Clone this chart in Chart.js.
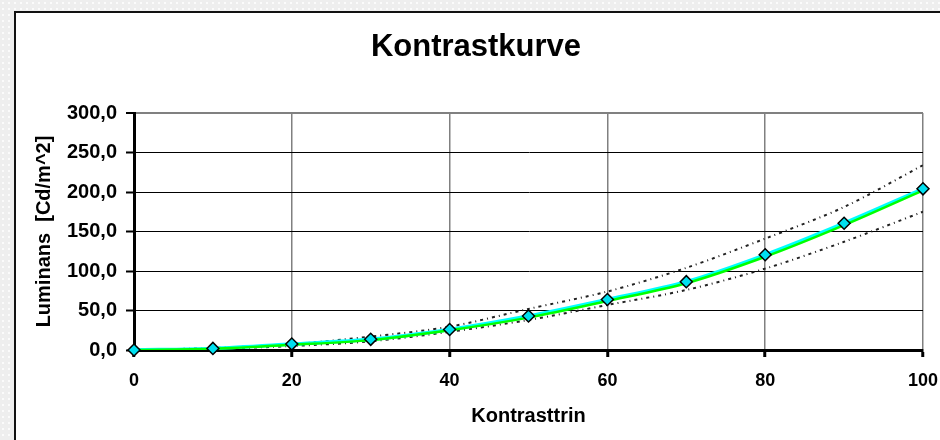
<!DOCTYPE html>
<html>
<head>
<meta charset="utf-8">
<script src="https://cdn.jsdelivr.net/npm/chart.js@4.4.1/dist/chart.umd.min.js"></script>
<style>
  body {
    margin: 0;
    width: 940px;
    height: 440px;
    overflow: hidden;
    background-color: #eeeeee;
    background-image: radial-gradient(#fbfbfb 1px, transparent 1.2px);
    background-size: 6px 6px;
    font-family: "Liberation Sans", Arial, sans-serif;
  }
  .box {
    position: absolute;
    left: 14px;
    top: 11px;
    width: 960px;
    height: 460px;
    background: #fff;
    border: 2px solid #111;
  }
  canvas { position: absolute; left: 0; top: 0; }
</style>
</head>
<body>
<div class="box"></div>
<canvas id="chart" width="940" height="440"></canvas>
<script>
//! Data

const steps = [0, 10, 20, 30, 40, 50, 60, 70, 80, 90, 100];
const luminans = [0, 2, 7.5, 13.5, 26, 43, 64, 86.5, 120.5, 160.5, 204];
const fit = [0, 1.5, 6.5, 12.5, 25, 41, 62, 84.5, 118, 158, 202];
const upper = [0, 2.5, 7.5, 17, 29.5, 52, 74, 104, 141, 181, 234];
const lower = [0, 1.5, 5, 11, 23, 38, 57, 76, 103, 137, 175];
const yTicks = [0, 50, 100, 150, 200, 250, 300];
const xTicks = [0, 20, 40, 60, 80, 100];

const pts = (arr) => steps.map((x, i) => ({ x: x, y: arr[i] }));
const fmt = (v) => v.toFixed(1).replace(".", ",");
const fontName = "'Liberation Sans', Arial, sans-serif";

//! Title plugin

const titlePlugin = {
  id: "bigTitle",
  afterDraw(chart) {
    const ctx = chart.ctx;
    ctx.save();
    ctx.font = "bold 31px " + fontName;
    ctx.fillStyle = "#000";
    ctx.textAlign = "center";
    ctx.textBaseline = "middle";
    ctx.fillText("Kontrastkurve", 476, 47);
    ctx.restore();
  },
};

const dotted = {
  borderColor: "#222",
  borderWidth: 2,
  borderDash: [3, 4, 1, 4],
  pointRadius: 0,
  tension: 0.3,
  order: 3,
};

new Chart(document.getElementById("chart"), {
  type: "line",
  data: {
    datasets: [
      Object.assign({ label: "Øvre", data: pts(upper) }, dotted),
      Object.assign({ label: "Nedre", data: pts(lower) }, dotted),
      {
        label: "Målt",
        data: pts(luminans),
        borderColor: "#00ffff",
        borderWidth: 3.5,
        pointRadius: 0,
        tension: 0.3,
        order: 2,
      },
      {
        label: "Kurve",
        data: pts(fit),
        borderColor: "#00ff00",
        borderWidth: 2.5,
        pointRadius: 0,
        tension: 0.3,
        order: 1,
      },
      {
        label: "Punkter",
        data: pts(luminans),
        showLine: false,
        pointStyle: "rectRot",
        pointRadius: 6,
        pointBackgroundColor: "#00e0f0",
        pointBorderColor: "#000",
        pointBorderWidth: 1.5,
        clip: false,
        order: 0,
      },
    ],
  },
  options: {
    responsive: false,
    animation: false,
    layout: {
      padding: { left: 28, right: 17, top: 113, bottom: 2 },
    },
    plugins: {
      legend: { display: false },
      tooltip: { enabled: false },
    },
    scales: {
      x: {
        type: "linear",
        min: 0,
        max: 100,
        afterBuildTicks: (s) => { s.ticks = xTicks.map((v) => ({ value: v })); },
        afterFit: (s) => {
          s.height = 88;
          s.paddingLeft = 0;
          s.paddingRight = 0;
        },
        border: { color: "#000", width: 3 },
        grid: {
          color: "#808080",
          lineWidth: 1.5,
          tickColor: "#000",
          tickWidth: 3,
          tickLength: 7,
        },
        ticks: {
          color: "#000",
          padding: 13,
          maxRotation: 0,
          font: { family: fontName, size: 18, weight: "bold" },
        },
        title: {
          display: true,
          text: "Kontrasttrin",
          color: "#000",
          padding: { top: 0, bottom: 10 },
          font: { family: fontName, size: 20, weight: "bold" },
        },
      },
      y: {
        min: 0,
        max: 300,
        afterBuildTicks: (s) => { s.ticks = yTicks.map((v) => ({ value: v })); },
        afterFit: (s) => { s.width = 106; },
        border: { color: "#000", width: 3 },
        grid: {
          color: (c) => (c.tick && c.tick.value === 300 ? "#808080" : "#000"),
          lineWidth: (c) => (c.tick && c.tick.value === 300 ? 2 : 1),
          tickColor: "#000",
          tickWidth: 2,
          tickLength: 8,
        },
        ticks: {
          color: "#000",
          padding: 9,
          callback: (v) => fmt(v),
          font: { family: fontName, size: 20, weight: "bold" },
        },
        title: {
          display: true,
          text: "Luminans  [Cd/m^2]",
          color: "#000",
          padding: { top: 4, bottom: 0 },
          font: { family: fontName, size: 20, weight: "bold" },
        },
      },
    },
  },
  plugins: [titlePlugin],
});
</script>
</body>
</html>
